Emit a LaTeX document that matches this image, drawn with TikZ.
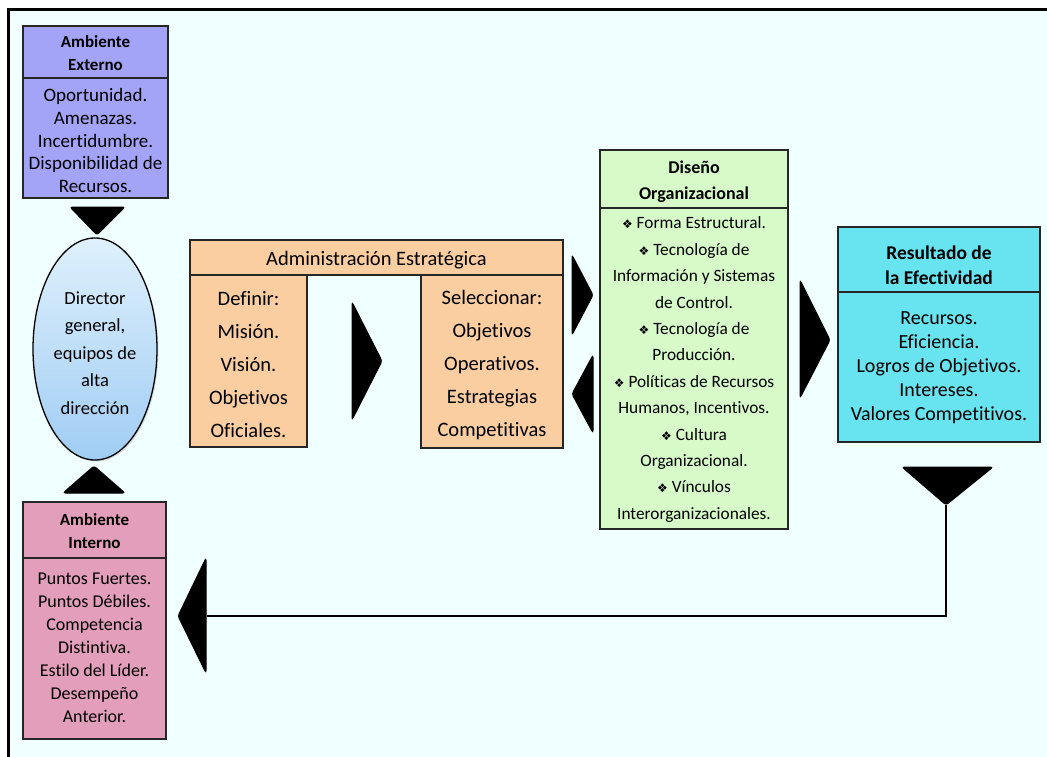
\documentclass[tikz,border=0pt]{standalone}
\usepackage{fontspec}
\setmainfont{Carlito}[Ligatures=NoCommon]
\newfontfamily\symfont{DejaVu Sans}
\usetikzlibrary{shapes.geometric,shadows}
\definecolor{bgc}{RGB}{240,255,255}
\definecolor{lav}{RGB}{163,163,248}
\definecolor{pinkc}{RGB}{226,158,186}
\definecolor{tanc}{RGB}{250,206,160}
\definecolor{greenc}{RGB}{214,250,200}
\definecolor{cyanc}{RGB}{104,228,240}
\definecolor{elltop}{RGB}{222,240,252}
\definecolor{ellbot}{RGB}{160,205,244}
\newcommand{\bul}{{\symfont\fontsize{12}{12}\selectfont ❖}\ }
\tikzset{
  box/.style={draw=black!85, line width=1.4pt, inner sep=0pt, anchor=center},
  txt/.style={inner sep=0pt, align=center, anchor=center},
  hdr/.style={font=\bfseries\fontsize{17}{23}\selectfont},
  tri/.style={fill=black, draw=black, line width=1pt, rounded corners=2.5pt},
  fb/.style={draw=black, line width=1.5pt}
}
\begin{document}
\begin{tikzpicture}[x=1pt,y=-1pt]
\useasboundingbox (0,0) rectangle (1047,757);
\fill[white] (0,0) rectangle (1047,757);
\fill[bgc] (8,9.5) rectangle (1047,757);
\draw[line width=3pt] (6.5,9.5) -- (1047,9.5);
\draw[line width=3pt] (8,8) -- (8,757);

% Ambiente Externo
\node[box, fill=lav, minimum width=145pt, minimum height=52pt] (extH) at (95.5,52) {};
\node[txt, hdr] (extHt) at ([yshift=-1pt]extH.center) {Ambiente\\Externo};
\node[box, fill=lav, minimum width=145pt, minimum height=120pt] (extB) at (95.5,138) {};
\node[txt, font=\fontsize{19}{22.8}\selectfont] (extBt) at ([yshift=-2.5pt]extB.center) {Oportunidad.\\Amenazas.\\Incertidumbre.\\Disponibilidad de\\Recursos.};

% ellipse
\node[ellipse, draw=black, line width=1.3pt, top color=elltop, bottom color=ellbot, minimum width=124pt, minimum height=222pt, inner sep=0pt, drop shadow={opacity=0.25, shadow xshift=1.5pt, shadow yshift=-1.5pt}] (dir) at (95,349) {};
\node[txt, font=\fontsize{18.5}{27.5}\selectfont] (dirt) at ([yshift=-4pt]dir.center) {Director\\general,\\equipos de\\alta\\dirección};

% Ambiente Interno
\node[box, fill=pinkc, minimum width=143pt, minimum height=56pt] (intH) at (94.5,530) {};
\node[txt, hdr] (intHt) at ([yshift=-1pt]intH.center) {Ambiente\\Interno};
\node[box, fill=pinkc, minimum width=143pt, minimum height=181pt] (intB) at (94.5,648.5) {};
\node[txt, font=\fontsize{18}{23}\selectfont] (intBt) at ([yshift=1pt]intB.center) {Puntos Fuertes.\\Puntos Débiles.\\Competencia\\Distintiva.\\Estilo del Líder.\\Desempeño\\Anterior.};

% triangles near ellipse
\draw[tri] (70,207) -- (125,207) -- (97,235) -- cycle;
\draw[tri] (63,493) -- (125,493) -- (94,466) -- cycle;

% Administracion Estrategica
\node[box, fill=tanc, minimum width=373pt, minimum height=35pt] (adm) at (376.5,257.5) {};
\node[txt, font=\fontsize{20.5}{20.5}\selectfont] (admt) at ([yshift=-3pt]adm.center) {Administración Estratégica};
\node[box, fill=tanc, minimum width=117pt, minimum height=172pt] (def) at (248.5,361) {};
\node[txt, font=\fontsize{20.5}{33}\selectfont] (deft) at ([yshift=-4pt]def.center) {Definir:\\Misión.\\Visión.\\Objetivos\\Oficiales.};
\node[box, fill=tanc, minimum width=142pt, minimum height=173pt] (sel) at (492,361.5) {};
\node[txt, font=\fontsize{20.5}{33}\selectfont] (selt) at ([yshift=-4pt]sel.center) {Seleccionar:\\Objetivos\\Operativos.\\Estrategias\\Competitivas};
\draw[tri] (352,302) -- (382,361) -- (352,420) -- cycle;
\draw[tri] (572,255) -- (593,295) -- (572,335) -- cycle;
\draw[tri] (593,355) -- (572,394) -- (593,433) -- cycle;

% Diseno Organizacional
\node[box, fill=greenc, minimum width=188pt, minimum height=58pt] (disH) at (694,179) {};
\node[txt, font=\bfseries\fontsize{18}{26}\selectfont] (disHt) at ([yshift=-3pt]disH.center) {Diseño\\Organizacional};
\node[box, fill=greenc, minimum width=188pt, minimum height=321pt] (disB) at (694,368.5) {};
\node[txt, font=\fontsize{17.3}{26.4}\selectfont] (disBt) at ([yshift=-1pt]disB.center) {\bul Forma Estructural.\\\bul Tecnología de\\Información y Sistemas\\de Control.\\\bul Tecnología de\\Producción.\\\bul Políticas de Recursos\\Humanos, Incentivos.\\\bul Cultura\\Organizacional.\\\bul Vínculos\\Interorganizacionales.};
\draw[tri] (800,280) -- (830,340) -- (800,398) -- cycle;

% Resultado
\node[box, fill=cyanc, minimum width=202pt, minimum height=65pt] (resH) at (939,259.5) {};
\node[txt, font=\fontsize{19.5}{25}\selectfont\bfseries] (resHt) at ([yshift=-6pt]resH.center) {Resultado de\\la Efectividad};
\node[box, fill=cyanc, minimum width=202pt, minimum height=150pt] (resB) at (939,367) {};
\node[txt, font=\fontsize{20}{24}\selectfont] (resBt) at ([yshift=-1pt]resB.center) {Recursos.\\Eficiencia.\\Logros de Objetivos.\\Intereses.\\Valores Competitivos.};

% feedback
\coordinate (tipR) at (946,505);
\coordinate (corner) at (946,616);
\coordinate (tipL) at (207,616);
\draw[tri] (902,467) -- (993,467) -- (tipR) -- cycle;
\draw[tri] (206,558) -- (178,616) -- (206,673) -- cycle;
\draw[fb] (tipR) -- (corner) -- (tipL);
\end{tikzpicture}
\end{document}
